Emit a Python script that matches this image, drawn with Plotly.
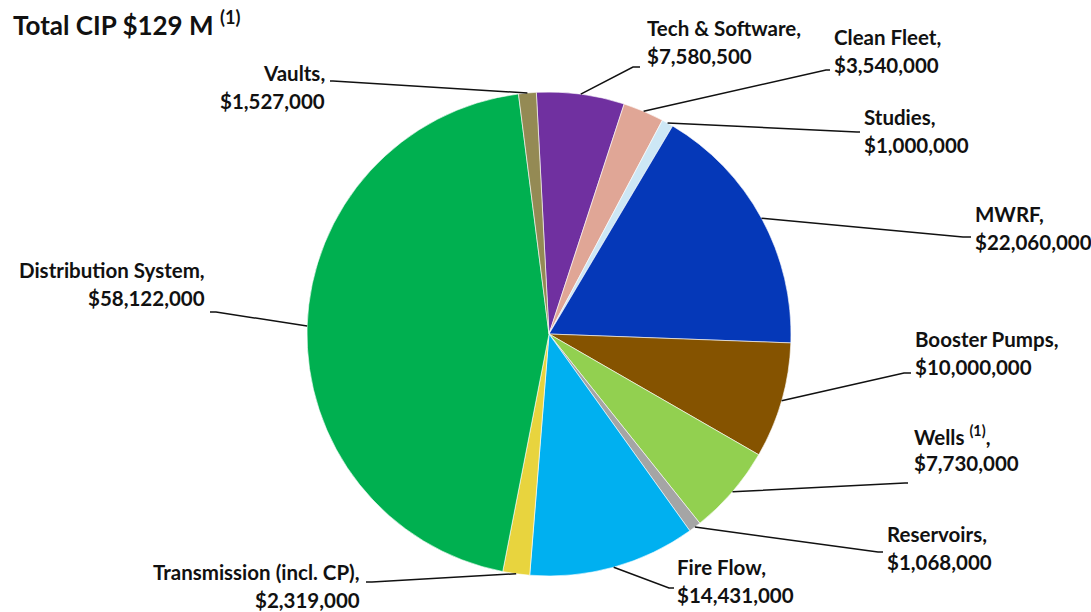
import math
import plotly.graph_objects as go

# ---- data -------------------------------------------------------------
categories = [
    "Tech & Software", "Clean Fleet", "Studies", "MWRF", "Booster Pumps",
    "Wells <sup>(1)</sup>", "Reservoirs", "Fire Flow", "Transmission (incl. CP)",
    "Distribution System", "Vaults",
]
amounts = [
    7580500, 3540000, 1000000, 22060000, 10000000,
    7730000, 1068000, 14431000, 2319000, 58122000, 1527000,
]
slice_colors = [
    "#7030A0", "#E0A696", "#CDE7F5", "#0538B8", "#855300",
    "#92D050", "#A5A5A5", "#00B0F0", "#E8D43E", "#00B050", "#948A54",
]
title_text = "Total CIP $129 M <sup>(1)</sup>"

# ---- layout constants (pixels) ----------------------------------------
W, H = 1091, 612
CX, CY, R = 549, 334, 242
ROTATION = -3
FONT = "Lato"
LABEL_SIZE = 20.5
TITLE_SIZE = 26
LINE_GAP = 28

# label placement: text side, text edge x, first-line centre y,
# leader elbow point, leader end point
label_layout = [
    ("left", 645, 28, (633, 67), (640, 67)),
    ("left", 832, 37, (826, 70), (830, 70)),
    ("left", 862, 117, (857, 132), (860, 132)),
    ("left", 973, 214, (963, 237), (971, 237)),
    ("left", 913, 339, (904, 373), (911, 373)),
    ("left", 912, 435, (905, 483), (908, 483)),
    ("left", 885, 534, (878, 552), (883, 552)),
    ("left", 675, 567, (669, 588), (674, 588)),
    ("right", 362, 572, (372, 582), (366, 582)),
    ("right", 207, 270, (216, 312), (210, 312)),
    ("right", 327, 73, (333, 81), (330, 81)),
]


def px(x):
    return x / W


def py(y):
    return 1 - y / H


fig = go.Figure(
    go.Pie(
        values=amounts,
        labels=categories,
        sort=False,
        direction="clockwise",
        rotation=ROTATION,
        marker=dict(colors=slice_colors, line=dict(color="white", width=0.6)),
        textinfo="none",
        hovertemplate="%{label}: $%{value:,.0f}<extra></extra>",
        domain=dict(x=[px(CX - R), px(CX + R)], y=[py(CY + R), py(CY - R)]),
        showlegend=False,
    )
)

annotations = []
shapes = []
total = sum(amounts)
cum = 0
for name, val, (side, tx, ty, elbow, end) in zip(categories, amounts, label_layout):
    mid = math.radians(ROTATION + 360 * (cum + val / 2) / total)
    cum += val
    ex = CX + R * math.sin(mid)
    ey = CY - R * math.cos(mid)
    shapes.append(dict(
        type="path", xref="paper", yref="paper",
        path=f"M {px(ex)},{py(ey)} L {px(elbow[0])},{py(elbow[1])} L {px(end[0])},{py(end[1])}",
        line=dict(color="#111111", width=1.5),
    ))
    for i, txt in enumerate([name + ",", f"${val:,.0f}"]):
        annotations.append(dict(
            x=px(tx), y=py(ty + i * LINE_GAP), xref="paper", yref="paper",
            xanchor=side, yanchor="middle", showarrow=False, text=txt,
            font=dict(family=FONT, size=LABEL_SIZE, color="#111111", weight="bold"),
        ))

annotations.append(dict(
    x=px(11), y=py(24), xref="paper", yref="paper", xanchor="left", yanchor="middle",
    showarrow=False, text=title_text,
    font=dict(family=FONT, size=TITLE_SIZE, color="#111111", weight="bold"),
))

fig.update_layout(
    width=W, height=H,
    margin=dict(l=0, r=0, t=0, b=0),
    paper_bgcolor="white", plot_bgcolor="white",
    annotations=annotations, shapes=shapes,
)

fig.write_html("out.html")
